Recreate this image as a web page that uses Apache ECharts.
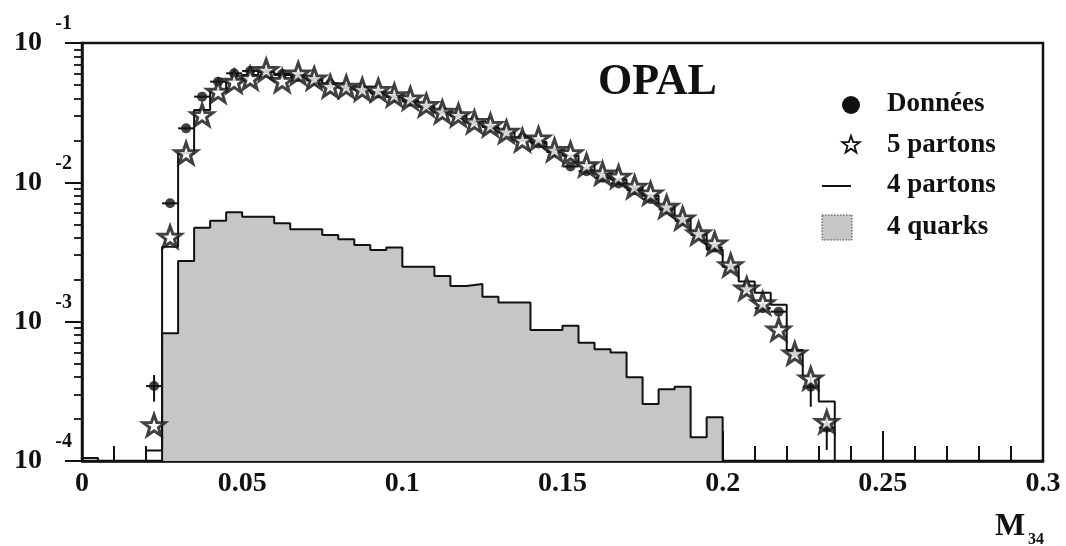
<!DOCTYPE html>
<html>
<head>
<meta charset="utf-8">
<title>OPAL M34</title>
<script src="https://cdn.jsdelivr.net/npm/echarts@6/dist/echarts.min.js"></script>
<style>
  html, body { margin: 0; padding: 0; background: #ffffff; }
  #chart { width: 1066px; height: 546px; }
</style>
</head>
<body>
<div id="chart"></div>
<script>
// ---- axis definitions ----
const X_MIN = 0, X_MAX = 0.3, X_STEP = 0.05;
const Y_MIN = 1e-4, Y_MAX = 1e-1;
const Y_DECADES = [1e-4, 1e-3, 1e-2, 1e-1];
const Y_EXPONENTS = ['-4', '-3', '-2', '-1'];
const Y_MINOR_FACTORS = [2, 3, 4, 5, 6, 7, 8, 9];

// ---- histogram binning ----
const BIN_WIDTH = 0.005;

// bin centres for the measured points (Données) and the 5-parton prediction
const binCenters = [
  0.0225, 0.0275, 0.0325, 0.0375, 0.0425, 0.0475, 0.0525, 0.0575, 0.0625, 0.0675,
  0.0725, 0.0775, 0.0825, 0.0875, 0.0925, 0.0975, 0.1025, 0.1075, 0.1125, 0.1175,
  0.1225, 0.1275, 0.1325, 0.1375, 0.1425, 0.1475, 0.1525, 0.1575, 0.1625, 0.1675,
  0.1725, 0.1775, 0.1825, 0.1875, 0.1925, 0.1975, 0.2025, 0.2075, 0.2125, 0.2175,
  0.2225, 0.2275, 0.2325
];

// Données (data)
const donnees = [
  3.45e-4, 7.07e-3, 2.44e-2, 4.12e-2, 5.28e-2, 6.06e-2, 6.3e-2, 6.2e-2, 6.0e-2, 5.7e-2,
  5.4e-2, 5.1e-2, 4.8e-2, 4.6e-2, 4.35e-2, 4.1e-2, 3.8e-2, 3.5e-2, 3.25e-2, 3.0e-2,
  2.75e-2, 2.5e-2, 2.3e-2, 2.1e-2, 1.9e-2, 1.65e-2, 1.3e-2, 1.2e-2, 1.08e-2, 9.8e-3,
  8.8e-3, 7.6e-3, 6.4e-3, 5.3e-3, 4.2e-3, 3.4e-3, 2.5e-3, 1.75e-3, 1.25e-3, 1.18e-3,
  6.0e-4, 3.41e-4, 1.73e-4
];

// vertical error bars on the data where they stick out: [x, low, high]
const donneesErrors = [
  [0.0225, 2.67e-4, 4.14e-4],
  [0.2275, 2.45e-4, 4.03e-4],
  [0.2325, 1.20e-4, 2.08e-4]
];

// 5 partons
const partons5 = [
  1.81e-4, 4.07e-3, 1.62e-2, 3.04e-2, 4.48e-2, 5.28e-2, 5.58e-2, 6.4e-2, 5.35e-2, 6.06e-2,
  5.58e-2, 4.9e-2, 4.86e-2, 4.65e-2, 4.6e-2, 4.23e-2, 4.01e-2, 3.59e-2, 3.21e-2, 3.04e-2,
  2.72e-2, 2.58e-2, 2.31e-2, 2.01e-2, 2.07e-2, 1.71e-2, 1.62e-2, 1.33e-2, 1.16e-2, 1.10e-2,
  9.3e-3, 8.34e-3, 6.7e-3, 5.52e-3, 4.31e-3, 3.65e-3, 2.55e-3, 1.73e-3, 1.36e-3, 8.8e-4,
  5.93e-4, 3.92e-4, 1.91e-4
];

// 4 partons histogram, bins of BIN_WIDTH starting at partons4Start (0 = empty bin)
const partons4Start = 0.0;
const partons4 = [
  1.05e-4, 0, 0, 0, 1.19e-4, 3.45e-3, 1.62e-2, 3.30e-2, 4.6e-2, 5.4e-2,
  5.9e-2, 6.2e-2, 5.9e-2, 5.8e-2, 5.5e-2, 5.1e-2, 4.8e-2, 4.6e-2, 4.4e-2, 4.1e-2,
  3.85e-2, 3.5e-2, 3.2e-2, 3.0e-2, 2.7e-2, 2.5e-2, 2.3e-2, 2.05e-2, 1.95e-2, 1.7e-2,
  1.55e-2, 1.35e-2, 1.17e-2, 1.05e-2, 9.2e-3, 8.0e-3, 6.8e-3, 5.6e-3, 4.4e-3, 3.3e-3,
  2.48e-3, 1.94e-3, 1.61e-3, 1.32e-3, 6.27e-4, 4.03e-4, 2.67e-4
];

// 4 quarks histogram
const quarks4Start = 0.025;
const quarks4 = [
  8.25e-4, 2.72e-3, 4.72e-3, 5.30e-3, 6.09e-3, 5.67e-3, 5.67e-3, 5.08e-3, 4.60e-3, 4.60e-3,
  4.19e-3, 3.90e-3, 3.55e-3, 3.27e-3, 3.40e-3, 2.48e-3, 2.48e-3, 2.13e-3, 1.80e-3, 1.86e-3,
  1.51e-3, 1.37e-3, 1.37e-3, 8.71e-4, 8.71e-4, 9.36e-4, 7.07e-4, 6.34e-4, 6.0e-4, 3.99e-4,
  2.56e-4, 3.27e-4, 3.41e-4, 1.48e-4, 2.06e-4
];

// legend entries
const legendNames = ['Données', '5 partons', '4 partons', '4 quarks'];

// ---- helpers ----
const FONT = "'Liberation Serif', 'Times New Roman', 'DejaVu Serif', serif";
const STAR_PTS = [[0, -10], [2.35, -3.24], [9.51, -3.09], [3.8, 1.24], [5.88, 8.09], [0, 4],
                  [-5.88, 8.09], [-3.8, 1.24], [-9.51, -3.09], [-2.35, -3.24]];
const STAR = 'path://M' + STAR_PTS.map(p => p.join(',')).join('L') + 'Z';

// step outline of a histogram; empty bins sit on the bottom of the axis
function histogramSteps(start, values) {
  const pts = [[start, Y_MIN]];
  values.forEach((v, i) => {
    pts.push([start + i * BIN_WIDTH, v > 0 ? v : Y_MIN]);
  });
  const last = values[values.length - 1];
  pts.push([start + values.length * BIN_WIDTH, last > 0 ? last : Y_MIN]);
  pts.push([start + values.length * BIN_WIDTH, Y_MIN]);
  return pts.map(p => [+p[0].toFixed(6), p[1]]);
}

const yMinorTicks = [];
Y_DECADES.slice(0, -1).forEach(d => Y_MINOR_FACTORS.forEach(f => yMinorTicks.push(+(d * f).toPrecision(3))));

const errorData = binCenters.map((x, i) => {
  const e = donneesErrors.find(r => Math.abs(r[0] - x) < 1e-9);
  return [x, donnees[i], e ? e[1] : 0, e ? e[2] : 0];
});

// legend star icon as a polygon around (cx, cy)
function starPolygon(cx, cy, scale) {
  return STAR_PTS.map(p => [cx + p[0] * scale, cy + p[1] * scale]);
}

const chart = echarts.init(document.getElementById('chart'), null, { renderer: 'canvas' });

const labelFont = { fontFamily: FONT, fontWeight: 'bold', color: '#111' };

chart.setOption({
  animation: false,
  backgroundColor: '#ffffff',
  grid: {
    left: 82, right: 23, top: 43, bottom: 85,
    show: true, borderColor: '#111', borderWidth: 2.5, backgroundColor: 'transparent'
  },
  xAxis: {
    type: 'value', min: X_MIN, max: X_MAX, interval: X_STEP,
    axisLine: { show: true, onZero: false, lineStyle: { color: '#111', width: 2.5 } },
    axisTick: { show: true, inside: true, length: 30, lineStyle: { color: '#111', width: 2 } },
    minorTick: { show: true, splitNumber: 5, length: 15, lineStyle: { color: '#111', width: 2 } },
    axisLabel: { ...labelFont, fontSize: 28, margin: 9, formatter: v => String(+v.toFixed(2)) },
    splitLine: { show: false }
  },
  yAxis: [
    {
      type: 'log', logBase: 10, min: Y_MIN, max: Y_MAX, position: 'left',
      axisLine: { show: true, lineStyle: { color: '#111', width: 2.5 } },
      axisTick: { show: true, inside: false, length: 17, customValues: Y_DECADES, lineStyle: { color: '#111', width: 2 } },
      axisLabel: { ...labelFont, fontSize: 28, margin: 40, customValues: Y_DECADES, formatter: () => '10' },
      splitLine: { show: false }
    },
    {
      type: 'log', logBase: 10, min: Y_MIN, max: Y_MAX, position: 'left',
      axisLine: { show: false },
      axisTick: { show: true, inside: false, length: 8, customValues: yMinorTicks, lineStyle: { color: '#111', width: 1.8 } },
      axisLabel: {
        ...labelFont, margin: 10, customValues: Y_DECADES,
        formatter: v => '{e|' + Y_EXPONENTS[Y_DECADES.findIndex(d => Math.abs(Math.log10(d) - Math.log10(v)) < 1e-6)] + '}',
        rich: { e: { fontFamily: FONT, fontWeight: 'bold', fontSize: 20, color: '#111', padding: [0, 0, 38, 0] } }
      },
      splitLine: { show: false }
    }
  ],
  series: [
    {
      name: '4 quarks', type: 'line', step: 'end', yAxisIndex: 0,
      data: histogramSteps(quarks4Start, quarks4),
      symbol: 'none', z: 1,
      lineStyle: { color: '#111', width: 2 },
      areaStyle: { color: '#c6c6c6', opacity: 1, origin: 'start' }
    },
    {
      name: '4 partons', type: 'line', step: 'end', yAxisIndex: 0,
      data: histogramSteps(partons4Start, partons4),
      symbol: 'none', z: 2,
      lineStyle: { color: '#111', width: 2 }
    },
    {
      name: 'Données errors', type: 'custom', yAxisIndex: 0, z: 3,
      data: errorData,
      renderItem: (params, api) => {
        const x = api.value(0), y = api.value(1);
        const left = api.coord([x - BIN_WIDTH / 2, y]);
        const right = api.coord([x + BIN_WIDTH / 2, y]);
        const children = [{
          type: 'line', shape: { x1: left[0], y1: left[1], x2: right[0], y2: right[1] },
          style: { stroke: '#111', lineWidth: 2 }
        }];
        const lo = api.value(2), hi = api.value(3);
        if (lo > 0 && hi > 0) {
          const a = api.coord([x, lo]), b = api.coord([x, hi]);
          children.push({
            type: 'line', shape: { x1: a[0], y1: a[1], x2: b[0], y2: b[1] },
            style: { stroke: '#111', lineWidth: 2 }
          });
        }
        return { type: 'group', children };
      }
    },
    {
      name: 'Données', type: 'scatter', yAxisIndex: 0, z: 4,
      data: binCenters.map((x, i) => [x, donnees[i]]),
      symbol: 'circle', symbolSize: 10,
      itemStyle: { color: '#111' }
    },
    {
      name: '5 partons', type: 'scatter', yAxisIndex: 0, z: 5,
      data: binCenters.map((x, i) => [x, partons5[i]]),
      symbol: STAR, symbolSize: 22, symbolKeepAspect: true,
      itemStyle: { color: '#ffffff', borderColor: '#111', borderWidth: 3, borderJoin: 'miter' }
    }
  ],
  graphic: [
    { type: 'text', x: 598, y: 83, style: { text: 'OPAL', fontFamily: FONT, fontWeight: 'bold', fontSize: 44, fill: '#111', verticalAlign: 'middle', align: 'left' } },
    // legend
    { type: 'circle', shape: { cx: 851, cy: 105, r: 9 }, style: { fill: '#111' } },
    { type: 'text', x: 887, y: 104, style: { text: legendNames[0], fontFamily: FONT, fontWeight: 'bold', fontSize: 27, fill: '#111', verticalAlign: 'middle' } },
    { type: 'polygon', shape: { points: starPolygon(851, 145, 0.92) }, style: { fill: '#fff', stroke: '#111', lineWidth: 1.8 } },
    { type: 'text', x: 887, y: 145, style: { text: legendNames[1], fontFamily: FONT, fontWeight: 'bold', fontSize: 27, fill: '#111', verticalAlign: 'middle' } },
    { type: 'line', shape: { x1: 822, y1: 186, x2: 851, y2: 186 }, style: { stroke: '#111', lineWidth: 2 } },
    { type: 'text', x: 887, y: 185, style: { text: legendNames[2], fontFamily: FONT, fontWeight: 'bold', fontSize: 27, fill: '#111', verticalAlign: 'middle' } },
    { type: 'rect', shape: { x: 822, y: 215, width: 30, height: 25 }, style: { fill: '#c6c6c6', stroke: '#444', lineWidth: 1, lineDash: [1.5, 1.5] } },
    { type: 'text', x: 887, y: 227, style: { text: legendNames[3], fontFamily: FONT, fontWeight: 'bold', fontSize: 27, fill: '#111', verticalAlign: 'middle' } },
    // axis title M34
    { type: 'text', x: 995, y: 527, style: { text: 'M', fontFamily: FONT, fontWeight: 'bold', fontSize: 32, fill: '#111', verticalAlign: 'middle' } },
    { type: 'text', x: 1028, y: 540, style: { text: '34', fontFamily: FONT, fontWeight: 'bold', fontSize: 16, fill: '#111', verticalAlign: 'middle' } }
  ]
});
</script>
</body>
</html>
